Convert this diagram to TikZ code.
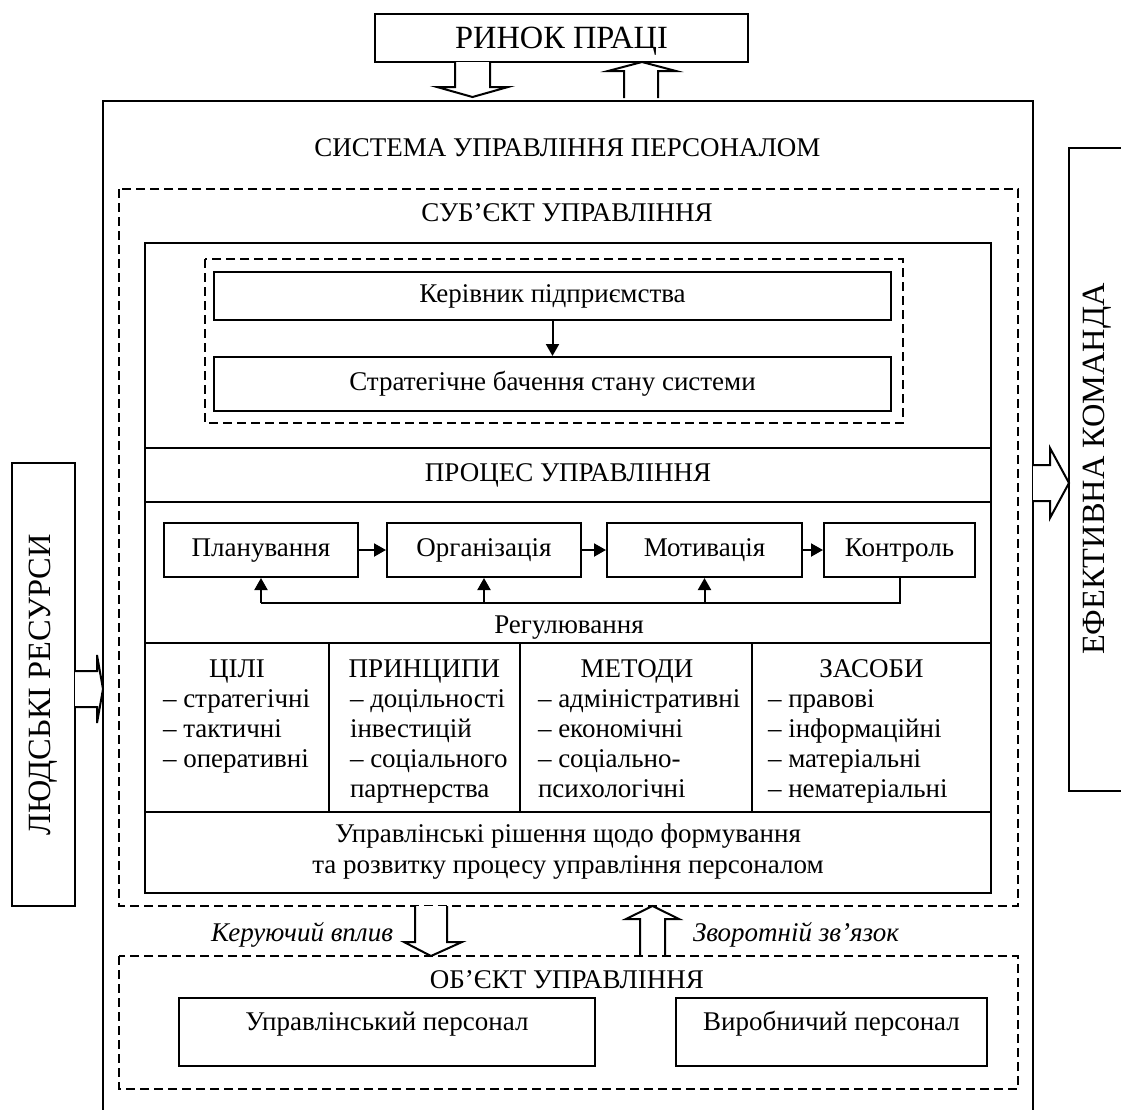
\documentclass[tikz,border=0pt]{standalone}
\usepackage{fontspec}
\setmainfont{Liberation Serif}
\usetikzlibrary{arrows.meta}

\begin{document}
\begin{tikzpicture}[
  x=0.5pt, y=-0.5pt,
  line width=1pt,
  every node/.style={font=\fontsize{13.5}{15}\selectfont, inner sep=0pt},
  frame/.style={draw, line width=1pt},
  dashframe/.style={draw, line width=1pt, dash pattern=on 4.5pt off 2.5pt},
  plainbox/.style={draw, line width=1pt, inner sep=0pt},
  stepbox/.style={plainbox, text height=9.5pt, text depth=3pt, minimum height=27pt},
  conn/.style={line width=1pt, -{Triangle[length=6pt,width=6.5pt]}},
  blockarrow/.style={draw, line width=1pt, fill=white, line join=miter},
  bigtext/.style={font=\fontsize{16.2}{18}\selectfont},
  listtext/.style={align=left, anchor=base west, font=\fontsize{13.5}{15}\selectfont},
  italictext/.style={font=\itshape\fontsize{13.5}{15}\selectfont},
]
\useasboundingbox (0,0) rectangle (1121,1110);

% ---------- labour market on top ----------
\node[plainbox, minimum width=186.5pt, minimum height=24pt] (rynok) at (561.5,38) {};
\node[bigtext] (rynoktext) at (561.5,41) {РИНОК ПРАЦІ};
% hollow arrow down into the system
\draw[blockarrow] (455,62) -- (455,87) -- (437,87) -- (472.5,97) -- (508,87) -- (490,87) -- (490,62);
% hollow arrow up to the market
\draw[blockarrow] (624,98) -- (624,71) -- (608,71) -- (642,62) -- (676,71) -- (658,71) -- (658,98);

% ---------- outer system frame (open at the bottom) ----------
\draw[frame] (103,1110) -- (103,101) -- (1033,101) -- (1033,1110);
\node (systitle) at (567.5,148) {СИСТЕМА УПРАВЛІННЯ ПЕРСОНАЛОМ};

% ---------- human resources (left) ----------
\node[plainbox, minimum width=31.5pt, minimum height=221.5pt] (hrbox) at (43.5,684.5) {};
\node[bigtext, rotate=90] (hrtext) at (hrbox.center) {ЛЮДСЬКІ РЕСУРСИ};
\draw[blockarrow] (75,671) -- (97,671) -- (97,655) -- (103,689) -- (97,723) -- (97,707) -- (75,707);

% ---------- effective team (right, open edge) ----------
\draw[frame] (1121,148) -- (1069,148) -- (1069,791) -- (1121,791);
\node[bigtext, rotate=90] (teamtext) at (1097,469) {ЕФЕКТИВНА КОМАНДА};
\draw[blockarrow] (1033,465) -- (1050,465) -- (1050,448) -- (1069,483) -- (1050,518) -- (1050,501) -- (1033,501);

% ---------- subject of management ----------
\draw[dashframe] (119,189) rectangle (1018,906);
\node (subjtitle) at (567,213) {СУБ’ЄКТ УПРАВЛІННЯ};

\draw[frame] (145,243) rectangle (991,893);
\draw (145,448) -- (991,448);
\draw (145,502) -- (991,502);
\draw (145,643) -- (991,643);
\draw (145,812) -- (991,812);
\draw (329,643) -- (329,812);
\draw (520,643) -- (520,812);
\draw (752,643) -- (752,812);

\draw[dashframe] (205,259) rectangle (903,423);
\node[plainbox, minimum width=338.5pt, minimum height=24pt] (head) at (552.5,296) {Керівник підприємства};
\node[plainbox, minimum width=338.5pt, minimum height=27pt] (vision) at (552.5,384) {Стратегічне бачення стану системи};
\draw[conn] (head.south) -- (vision.north);

% ---------- management process ----------
\node (proctitle) at (568,475) {ПРОЦЕС УПРАВЛІННЯ};
\node[stepbox, minimum width=97pt] (plan) at (261,550) {Планування};
\node[stepbox, minimum width=97pt] (org) at (484,550) {Організація};
\node[stepbox, minimum width=97.5pt] (motiv) at (704.5,550) {Мотивація};
\node[stepbox, minimum width=75.5pt] (ctrl) at (899.5,550) {Контроль};
\draw[conn] (plan.east) -- (org.west);
\draw[conn] (org.east) -- (motiv.west);
\draw[conn] (motiv.east) -- (ctrl.west);
\path (ctrl.south) ++(0,25) coordinate (fbR);
\draw (ctrl.south) -- (fbR) -- (plan.south |- fbR);
\draw[conn] (plan.south |- fbR) -- (plan.south);
\draw[conn] (org.south |- fbR) -- (org.south);
\draw[conn] (motiv.south |- fbR) -- (motiv.south);
\node (regtext) at (569,628) {Регулювання};

% ---------- goals, principles, methods, means ----------
\node[anchor=base] (hgoals) at (237,677) {ЦІЛІ};
\node[anchor=base] (hprinc) at (424.5,677) {ПРИНЦИПИ};
\node[anchor=base] (hmeth) at (637,677) {МЕТОДИ};
\node[anchor=base] (hmeans) at (871.5,677) {ЗАСОБИ};
% the base anchor of a multi-line node sits on its last line
\node[listtext] (lgoals) at (162,767) {– стратегічні\\– тактичні\\– оперативні};
\node[listtext] (lprinc) at (349,797) {– доцільності\\інвестицій\\– соціального\\партнерства};
\node[listtext] (lmeth) at (537,797) {– адміністративні\\– економічні\\– соціально-\\психологічні};
\node[listtext] (lmeans) at (767,797) {– правові\\– інформаційні\\– матеріальні\\– нематеріальні};

\node[align=center, font=\fontsize{13.5}{15.5}\selectfont] (decis) at (568,852)
  {Управлінські рішення щодо формування\\та розвитку процесу управління персоналом};

% ---------- control influence and feedback ----------
\draw[blockarrow] (415,906) -- (415,942) -- (404,942) -- (431,956) -- (462,942) -- (447,942) -- (447,906);
\draw[blockarrow] (640,956) -- (640,919) -- (626,919) -- (652.5,906) -- (679,919) -- (665,919) -- (665,956);
\node[anchor=east, italictext] (influence) at (394,935) {Керуючий вплив};
\node[anchor=west, italictext] (feedback) at (692,935) {Зворотній зв’язок};

% ---------- object of management ----------
\draw[dashframe] (119,956) rectangle (1018,1089);
\node (objtitle) at (567,980) {ОБ’ЄКТ УПРАВЛІННЯ};
\node[plainbox, minimum width=208pt, minimum height=34pt] (mgmtstaff) at (387,1032) {};
\node (mgmtstafftext) at (387,1024) {Управлінський персонал};
\node[plainbox, minimum width=155.5pt, minimum height=34pt] (prodstaff) at (831.5,1032) {};
\node (prodstafftext) at (831.5,1024) {Виробничий персонал};
\end{tikzpicture}
\end{document}
